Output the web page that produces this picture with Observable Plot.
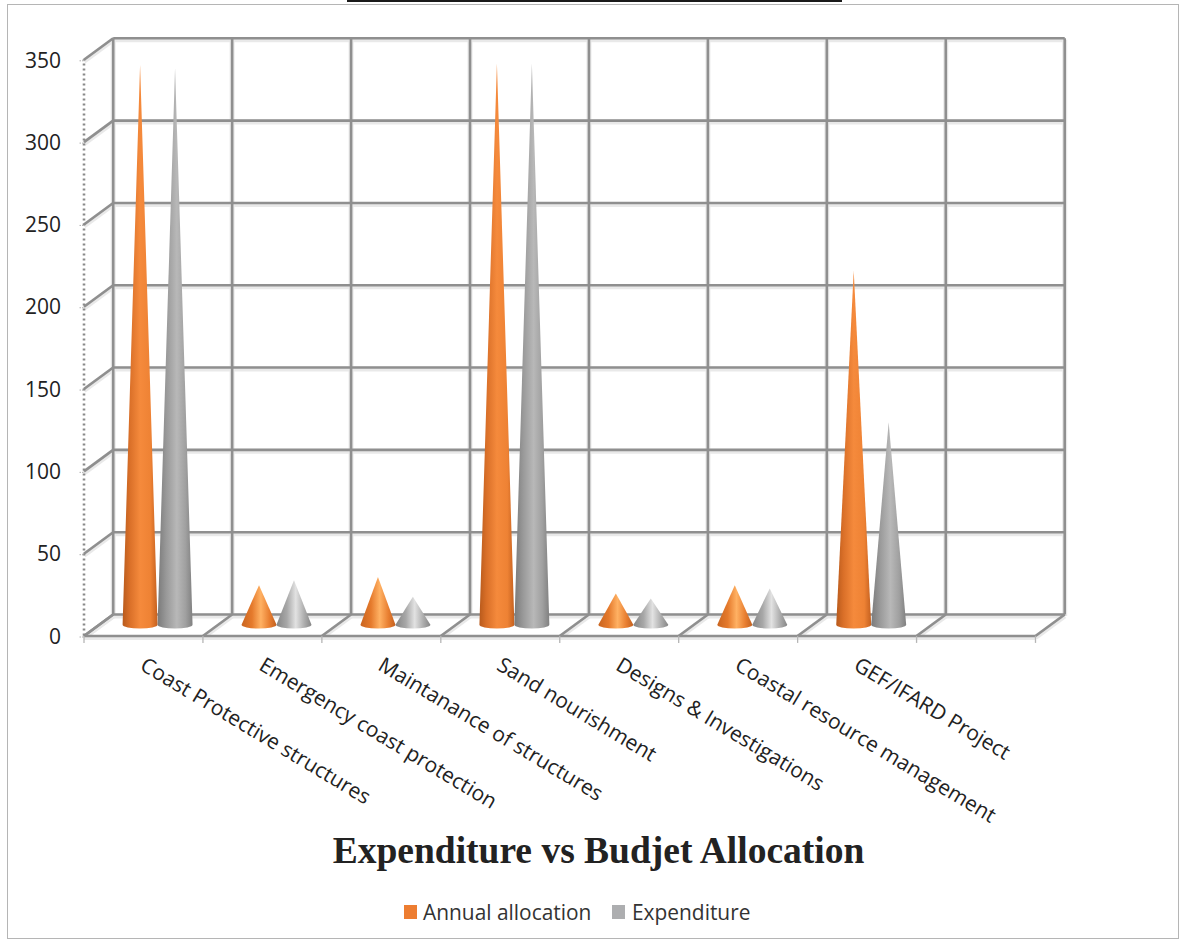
<!DOCTYPE html>
<html>
<head>
<meta charset="utf-8">
<script src="https://cdn.jsdelivr.net/npm/d3@7"></script>
<script src="https://cdn.jsdelivr.net/npm/@observablehq/plot@0.6"></script>
<style>
html,body{margin:0;padding:0;background:#fff;}
#page{position:relative;width:1180px;height:941px;overflow:hidden;background:#fff;}
#frame{position:absolute;left:7px;top:4px;width:1170px;height:933px;border:1.5px solid #b5b5b5;box-sizing:content-box;}
#topline{position:absolute;left:347px;top:0;width:495px;height:1.5px;background:#1a1a1a;}
#chart{position:absolute;left:0;top:0;}
#title{position:absolute;left:0;width:1197px;top:829px;text-align:center;font:bold 37.5px "Liberation Serif",serif;color:#222;white-space:nowrap;}
#legend{position:absolute;top:897px;left:404px;height:30px;font:20.9px "Open Sans",sans-serif;color:#333;white-space:nowrap;}
#legend span{position:absolute;top:0;line-height:30px;}
#legend i{position:absolute;top:8px;width:13px;height:14px;}
</style>
</head>
<body>
<div id="page">
<div id="frame"></div>
<div id="topline"></div>
<div id="chart"></div>
<div id="title">Expenditure vs Budjet Allocation</div>
<div id="legend"></div>
</div>
<script>
const categories = ["Coast Protective structures","Emergency coast protection","Maintanance of structures","Sand nourishment","Designs & Investigations","Coastal resource management","GEF/IFARD Project",""];
const annualAllocation = [340,24,29,341,19,24,215,null];
const expenditure = [338,27,17,341,16,22,123,null];
const seriesNames = ["Annual allocation","Expenditure"];
const seriesColors = ["#ed7d31","#adaeb0"];
const yTicks = [0,50,100,150,200,250,300,350];

// Oblique depth of the 3-D box, in data units of the two scales
const depthX = 0.2456, depthY = 13.06;
const coneHalf = 0.147;
const xEdges = d3.range(categories.length + 1);

const cones = [];
categories.forEach((c,i)=>{
  const mid = i + 0.5 + depthX/2;
  if (annualAllocation[i] != null) cones.push({series:0,value:annualAllocation[i],x1:mid-2*coneHalf,x2:mid});
  if (expenditure[i] != null) cones.push({series:1,value:expenditure[i],x1:mid,x2:mid+2*coneHalf});
});

function coneRender(index, scales, values) {
  const g = d3.create("svg:g");
  const defs = g.append("defs");
  const stops = {
    "o-tall":[["#b85a1c",0],["#d96f28",.2],["#f58a3c",.5],["#ee8234",.8],["#c4601f",1]],
    "o-low":[["#c9641f",0],["#e57a2c",.3],["#ffb163",.55],["#e87e30",.8],["#c2601f",1]],
    "g-tall":[["#7a7a7a",0],["#999",.25],["#b8b8b8",.55],["#a0a0a0",.8],["#808080",1]],
    "g-low":[["#858585",0],["#a8a8a8",.3],["#e2e2e2",.55],["#acacac",.8],["#868686",1]]
  };
  for (const id in stops) {
    const lg = defs.append("linearGradient").attr("id","cone-"+id).attr("x1",0).attr("x2",1).attr("y1",0).attr("y2",0);
    stops[id].forEach(([col,o])=>lg.append("stop").attr("offset",o).attr("stop-color",col));
  }
  for (const i of index) {
    const x1 = values.x1[i], x2 = values.x2[i], yb = values.y1[i], yt = values.y2[i];
    const rx = (x2-x1)/2, ry = 3.8;
    const d = cones[i];
    const id = (d.series===0?"o":"g") + (d.value>=50?"-tall":"-low");
    g.append("path")
      .attr("d",`M${x1},${yb}L${(x1+x2)/2},${yt}L${x2},${yb}A${rx},${ry} 0 0 1 ${x1},${yb}Z`)
      .attr("fill",`url(#cone-${id})`);
  }
  return g.node();
}

const gridStroke = "#8f8f8f", gridShadow = "#e9e9e9", gw = 2.6;
const gridSets = (stroke, strokeWidth, dy) => [
  Plot.link(yTicks,{x1:depthX,x2:categories.length+depthX,y1:d=>d+depthY,y2:d=>d+depthY,stroke,strokeWidth,dy}),
  Plot.link(xEdges,{x1:d=>d+depthX,x2:d=>d+depthX,y1:depthY,y2:350+depthY,stroke,strokeWidth,dy}),
  Plot.link(yTicks,{x1:0,x2:depthX,y1:d=>d,y2:d=>d+depthY,stroke,strokeWidth,dy}),
  Plot.link(xEdges,{x1:d=>d,x2:d=>d+depthX,y1:0,y2:depthY,stroke,strokeWidth,dy}),
  Plot.link([0],{x1:0,x2:categories.length,y1:0,y2:0,stroke,strokeWidth,dy})
];

const chart = Plot.plot({
  width:1180,
  height:830,
  marginLeft:83.5,
  marginRight:145,
  marginTop:59.3,
  marginBottom:194.5,
  style:{background:"transparent",overflow:"visible"},
  x:{type:"linear",domain:[0,categories.length],axis:null},
  y:{type:"linear",domain:[0,350],nice:false,axis:null},
  marks:[
    ...gridSets(gridShadow,5,1.5),
    ...gridSets(gridStroke,gw,0),
    Plot.ruleX([0],{y1:0,y2:350,stroke:"#8a8a8a",strokeWidth:2.6,strokeDasharray:"2 3"}),
    Plot.link(xEdges,{x1:d=>d,x2:d=>d,y1:0,y2:-4.2,stroke:"#b5b5b5",strokeWidth:1.3}),
    Plot.axisY({ticks:yTicks,anchor:"left",tickSize:4,tickPadding:19,fontSize:21,fontFamily:"Open Sans",stroke:"#b0b0b0",strokeDasharray:"1.5 1",color:"#222",label:null,dy:1,
      tickFormat:d=>d}),
    Plot.rect(cones,{x1:"x1",x2:"x2",y1:()=>depthY/2,y2:d=>d.value+depthY/2,render:coneRender}),
    Plot.text(categories.map((c,i)=>({c,i})).filter(d=>d.c),{
      x:d=>d.i+0.49,y:-16.5,text:"c",rotate:31,textAnchor:"start",lineAnchor:"middle",
      fontSize:21,fontFamily:"Open Sans",fill:"#222"})
  ]
});
document.getElementById("chart").appendChild(chart);

const legend = document.getElementById("legend");
const legendX = [[0,19],[208,228]];
seriesNames.forEach((name,i)=>{
  const sw=document.createElement("i");sw.style.left=legendX[i][0]+"px";sw.style.background=seriesColors[i];legend.appendChild(sw);
  const t=document.createElement("span");t.style.left=legendX[i][1]+"px";t.textContent=name;legend.appendChild(t);
});
</script>
</body>
</html>
